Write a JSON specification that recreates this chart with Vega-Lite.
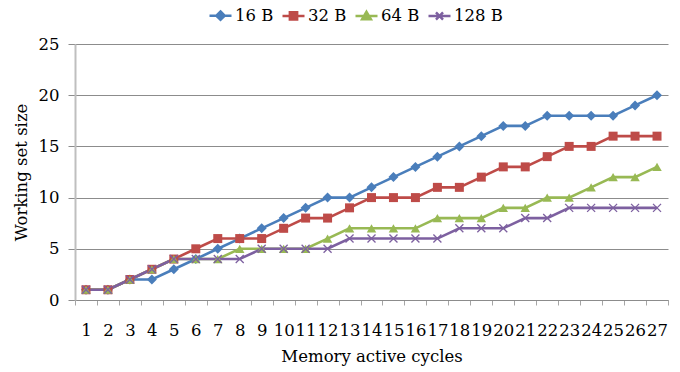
{
  "$schema": "https://vega.github.io/schema/vega-lite/v6.json",
  "autosize": {"type": "none"},
  "padding": {"left": 75, "top": 44, "right": 12, "bottom": 72},
  "width": 593,
  "height": 256,
  "background": "white",
  "config": {
    "view": {"stroke": null},
    "font": "DejaVu Serif",
    "axis": {"labelFont": "DejaVu Serif", "titleFont": "DejaVu Serif", "labelColor": "black", "titleColor": "black", "titleFontWeight": "normal"},
    "legend": {"labelFont": "DejaVu Serif", "labelColor": "black"}
  },
  "data": {
    "values": [
      {"cycle": 1, "series": "16 B", "size": 1}, {"cycle": 2, "series": "16 B", "size": 1}, {"cycle": 3, "series": "16 B", "size": 2}, {"cycle": 4, "series": "16 B", "size": 2}, {"cycle": 5, "series": "16 B", "size": 3}, {"cycle": 6, "series": "16 B", "size": 4}, {"cycle": 7, "series": "16 B", "size": 5}, {"cycle": 8, "series": "16 B", "size": 6}, {"cycle": 9, "series": "16 B", "size": 7}, {"cycle": 10, "series": "16 B", "size": 8}, {"cycle": 11, "series": "16 B", "size": 9}, {"cycle": 12, "series": "16 B", "size": 10}, {"cycle": 13, "series": "16 B", "size": 10}, {"cycle": 14, "series": "16 B", "size": 11}, {"cycle": 15, "series": "16 B", "size": 12}, {"cycle": 16, "series": "16 B", "size": 13}, {"cycle": 17, "series": "16 B", "size": 14}, {"cycle": 18, "series": "16 B", "size": 15}, {"cycle": 19, "series": "16 B", "size": 16}, {"cycle": 20, "series": "16 B", "size": 17}, {"cycle": 21, "series": "16 B", "size": 17}, {"cycle": 22, "series": "16 B", "size": 18}, {"cycle": 23, "series": "16 B", "size": 18}, {"cycle": 24, "series": "16 B", "size": 18}, {"cycle": 25, "series": "16 B", "size": 18}, {"cycle": 26, "series": "16 B", "size": 19}, {"cycle": 27, "series": "16 B", "size": 20},
      {"cycle": 1, "series": "32 B", "size": 1}, {"cycle": 2, "series": "32 B", "size": 1}, {"cycle": 3, "series": "32 B", "size": 2}, {"cycle": 4, "series": "32 B", "size": 3}, {"cycle": 5, "series": "32 B", "size": 4}, {"cycle": 6, "series": "32 B", "size": 5}, {"cycle": 7, "series": "32 B", "size": 6}, {"cycle": 8, "series": "32 B", "size": 6}, {"cycle": 9, "series": "32 B", "size": 6}, {"cycle": 10, "series": "32 B", "size": 7}, {"cycle": 11, "series": "32 B", "size": 8}, {"cycle": 12, "series": "32 B", "size": 8}, {"cycle": 13, "series": "32 B", "size": 9}, {"cycle": 14, "series": "32 B", "size": 10}, {"cycle": 15, "series": "32 B", "size": 10}, {"cycle": 16, "series": "32 B", "size": 10}, {"cycle": 17, "series": "32 B", "size": 11}, {"cycle": 18, "series": "32 B", "size": 11}, {"cycle": 19, "series": "32 B", "size": 12}, {"cycle": 20, "series": "32 B", "size": 13}, {"cycle": 21, "series": "32 B", "size": 13}, {"cycle": 22, "series": "32 B", "size": 14}, {"cycle": 23, "series": "32 B", "size": 15}, {"cycle": 24, "series": "32 B", "size": 15}, {"cycle": 25, "series": "32 B", "size": 16}, {"cycle": 26, "series": "32 B", "size": 16}, {"cycle": 27, "series": "32 B", "size": 16},
      {"cycle": 1, "series": "64 B", "size": 1}, {"cycle": 2, "series": "64 B", "size": 1}, {"cycle": 3, "series": "64 B", "size": 2}, {"cycle": 4, "series": "64 B", "size": 3}, {"cycle": 5, "series": "64 B", "size": 4}, {"cycle": 6, "series": "64 B", "size": 4}, {"cycle": 7, "series": "64 B", "size": 4}, {"cycle": 8, "series": "64 B", "size": 5}, {"cycle": 9, "series": "64 B", "size": 5}, {"cycle": 10, "series": "64 B", "size": 5}, {"cycle": 11, "series": "64 B", "size": 5}, {"cycle": 12, "series": "64 B", "size": 6}, {"cycle": 13, "series": "64 B", "size": 7}, {"cycle": 14, "series": "64 B", "size": 7}, {"cycle": 15, "series": "64 B", "size": 7}, {"cycle": 16, "series": "64 B", "size": 7}, {"cycle": 17, "series": "64 B", "size": 8}, {"cycle": 18, "series": "64 B", "size": 8}, {"cycle": 19, "series": "64 B", "size": 8}, {"cycle": 20, "series": "64 B", "size": 9}, {"cycle": 21, "series": "64 B", "size": 9}, {"cycle": 22, "series": "64 B", "size": 10}, {"cycle": 23, "series": "64 B", "size": 10}, {"cycle": 24, "series": "64 B", "size": 11}, {"cycle": 25, "series": "64 B", "size": 12}, {"cycle": 26, "series": "64 B", "size": 12}, {"cycle": 27, "series": "64 B", "size": 13},
      {"cycle": 1, "series": "128 B", "size": 1}, {"cycle": 2, "series": "128 B", "size": 1}, {"cycle": 3, "series": "128 B", "size": 2}, {"cycle": 4, "series": "128 B", "size": 3}, {"cycle": 5, "series": "128 B", "size": 4}, {"cycle": 6, "series": "128 B", "size": 4}, {"cycle": 7, "series": "128 B", "size": 4}, {"cycle": 8, "series": "128 B", "size": 4}, {"cycle": 9, "series": "128 B", "size": 5}, {"cycle": 10, "series": "128 B", "size": 5}, {"cycle": 11, "series": "128 B", "size": 5}, {"cycle": 12, "series": "128 B", "size": 5}, {"cycle": 13, "series": "128 B", "size": 6}, {"cycle": 14, "series": "128 B", "size": 6}, {"cycle": 15, "series": "128 B", "size": 6}, {"cycle": 16, "series": "128 B", "size": 6}, {"cycle": 17, "series": "128 B", "size": 6}, {"cycle": 18, "series": "128 B", "size": 7}, {"cycle": 19, "series": "128 B", "size": 7}, {"cycle": 20, "series": "128 B", "size": 7}, {"cycle": 21, "series": "128 B", "size": 8}, {"cycle": 22, "series": "128 B", "size": 8}, {"cycle": 23, "series": "128 B", "size": 9}, {"cycle": 24, "series": "128 B", "size": 9}, {"cycle": 25, "series": "128 B", "size": 9}, {"cycle": 26, "series": "128 B", "size": 9}, {"cycle": 27, "series": "128 B", "size": 9}
    ]
  },
  "resolve": {"axis": {"x": "independent"}},
  "layer": [
    {
      "mark": {"type": "line", "strokeWidth": 2.6},
      "encoding": {
        "x": {
          "field": "cycle", "type": "quantitative",
          "scale": {"domain": [0.5, 27.5], "nice": false, "zero": false},
          "axis": {
            "orient": "bottom", "title": null, "labels": false, "grid": false,
            "values": [0.5, 1.5, 2.5, 3.5, 4.5, 5.5, 6.5, 7.5, 8.5, 9.5, 10.5, 11.5, 12.5, 13.5, 14.5, 15.5, 16.5, 17.5, 18.5, 19.5, 20.5, 21.5, 22.5, 23.5, 24.5, 25.5, 26.5, 27.5],
            "tickSize": 5, "tickColor": "#a6a6a6", "tickWidth": 1,
            "domainColor": "#8c8c8c", "domainWidth": 1
          }
        },
        "y": {
          "field": "size", "type": "quantitative",
          "scale": {"domain": [0, 25], "nice": false},
          "axis": {
            "title": "Working set size", "titleFontSize": 16.5, "titlePadding": 9,
            "values": [0, 5, 10, 15, 20, 25],
            "labelFontSize": 16.5, "labelPadding": 9,
            "grid": true, "gridColor": "#8c8c8c", "gridWidth": 1,
            "tickSize": 7, "tickColor": "#8c8c8c",
            "domainColor": "#bfbfbf", "domainWidth": 2
          }
        },
        "color": {
          "field": "series", "type": "nominal",
          "scale": {"domain": ["16 B", "32 B", "64 B", "128 B"], "range": ["#4a7ebb", "#be4b48", "#98b954", "#7d60a0"]},
          "legend": {
            "orient": "none", "direction": "horizontal", "title": null,
            "legendX": 133, "legendY": -41, "padding": 0,
            "labelFontSize": 16.5, "labelOffset": 2, "columnPadding": 3,
            "symbolSize": 484, "symbolStrokeWidth": 2.5,
            "encode": {
              "symbols": {
                "update": {
                  "shape": {"signal": "datum.value === '16 B' ? 'M-1,0H1M0,-0.38L0.38,0L0,0.38L-0.38,0Z' : datum.value === '32 B' ? 'M-1,0H1M-0.33,-0.33H0.33V0.33H-0.33Z' : datum.value === '64 B' ? 'M-1,0H1M0,-0.38L0.4,0.3H-0.4Z' : 'M-1,0H1M-0.32,-0.32L0.32,0.32M-0.32,0.32L0.32,-0.32'"},
                  "fill": {"scale": "color", "field": "value"},
                  "stroke": {"scale": "color", "field": "value"},
                  "strokeWidth": {"value": 2.5},
                  "size": {"value": 484}
                }
              }
            }
          }
        },
        "order": {"field": "cycle"}
      }
    },
    {
      "transform": [{"filter": "datum.series === '16 B'"}],
      "mark": {"type": "point", "shape": "diamond", "size": 100, "filled": true, "opacity": 1, "color": "#4a7ebb"},
      "encoding": {
        "x": {
          "field": "cycle", "type": "quantitative",
          "axis": {
            "orient": "bottom", "title": "Memory active cycles", "titleFontSize": 16.5, "titlePadding": 10,
            "values": [1, 2, 3, 4, 5, 6, 7, 8, 9, 10, 11, 12, 13, 14, 15, 16, 17, 18, 19, 20, 21, 22, 23, 24, 25, 26, 27],
            "labelFontSize": 16.5, "labelPadding": 22, "tickSize": 0, "ticks": false,
            "domain": false, "grid": false, "labelOverlap": false, "labelFlush": false
          }
        },
        "y": {"field": "size", "type": "quantitative"}
      }
    },
    {
      "transform": [{"filter": "datum.series === '32 B'"}],
      "mark": {"type": "point", "shape": "square", "size": 81, "filled": true, "opacity": 1, "color": "#be4b48"},
      "encoding": {
        "x": {"field": "cycle", "type": "quantitative", "axis": null},
        "y": {"field": "size", "type": "quantitative"}
      }
    },
    {
      "transform": [{"filter": "datum.series === '64 B'"}],
      "mark": {"type": "point", "shape": "triangle-up", "size": 90, "filled": true, "opacity": 1, "color": "#98b954"},
      "encoding": {
        "x": {"field": "cycle", "type": "quantitative", "axis": null},
        "y": {"field": "size", "type": "quantitative"}
      }
    },
    {
      "transform": [{"filter": "datum.series === '128 B'"}],
      "mark": {"type": "point", "shape": "M-1,-1L1,1M-1,1L1,-1", "size": 64, "filled": false, "opacity": 1, "strokeWidth": 1.3, "color": "#7d60a0"},
      "encoding": {
        "x": {"field": "cycle", "type": "quantitative", "axis": null},
        "y": {"field": "size", "type": "quantitative"}
      }
    }
  ]
}
